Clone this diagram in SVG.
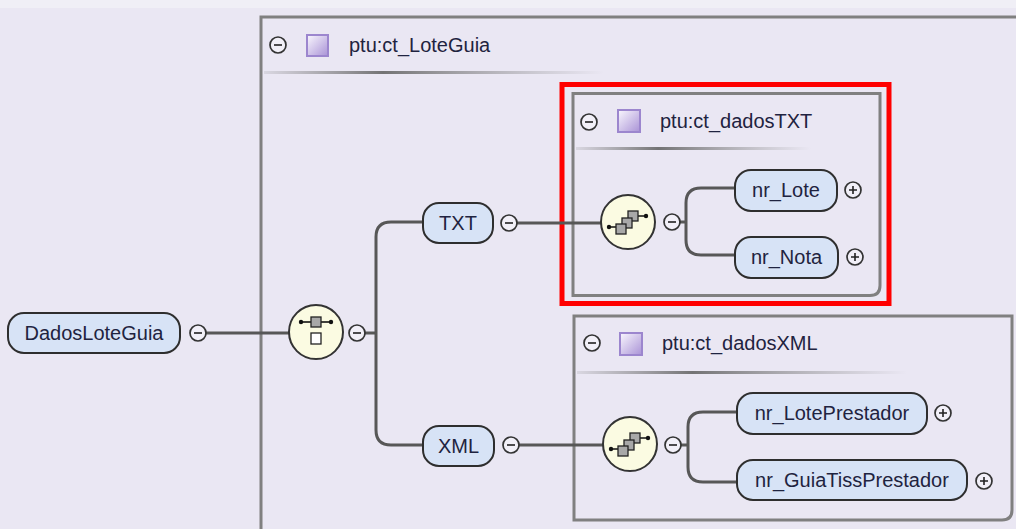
<svg xmlns="http://www.w3.org/2000/svg" width="1016" height="529" viewBox="0 0 1016 529">
<defs>
<linearGradient id="sq" x1="0" y1="0" x2="1" y2="1">
<stop offset="0" stop-color="#FAF8FE"/>
<stop offset="1" stop-color="#A992D6"/>
</linearGradient>
<linearGradient id="sep" x1="0" y1="0" x2="1" y2="0">
<stop offset="0" stop-color="#777" stop-opacity="0.15"/>
<stop offset="0.35" stop-color="#666" stop-opacity="0.9"/>
<stop offset="1" stop-color="#888" stop-opacity="0"/>
</linearGradient>
<symbol id="seq" overflow="visible">
<circle cx="0" cy="0" r="27" fill="#FBFBE2" stroke="#333" stroke-width="2"/>
<path d="M-19 5H-12M10 -6H18" stroke="#111" stroke-width="1.6"/>
<circle cx="-19" cy="5" r="2.2" fill="#111"/>
<circle cx="18" cy="-6" r="2.2" fill="#111"/>
<rect x="0" y="-11" width="10" height="10" fill="#A8A8A8" stroke="#222" stroke-width="1.3"/>
<rect x="-6" y="-4" width="10" height="10" fill="#A8A8A8" stroke="#222" stroke-width="1.3"/>
<rect x="-12" y="2" width="10" height="10" fill="#A8A8A8" stroke="#222" stroke-width="1.3"/>
</symbol>
<symbol id="minus" overflow="visible">
<circle cx="0" cy="0" r="8" fill="#F2F0F8" stroke="#333" stroke-width="1.7"/>
<path d="M-4 0H4" stroke="#222" stroke-width="1.6"/>
</symbol>
<symbol id="plus" overflow="visible">
<circle cx="0" cy="0" r="8" fill="#F2F0F8" stroke="#333" stroke-width="1.7"/>
<path d="M-4 0H4M0 -4V4" stroke="#222" stroke-width="1.6"/>
</symbol>
</defs>
<style>
.bg{fill:#EAE7F3}
.box{fill:none;stroke:#808080;stroke-width:3}
.node{fill:#D7E3F6;stroke:#2E2E2E;stroke-width:2}
.lbl{font-family:"Liberation Sans",Arial,sans-serif;font-size:20px;fill:#1F2340;text-anchor:middle}
.hdr{font-family:"Liberation Sans",Arial,sans-serif;font-size:20px;fill:#1F2340}
.sq{fill:url(#sq);stroke:#9C86CE;stroke-width:2}
.con{fill:none;stroke:#575757;stroke-width:3}
</style>
<rect class="bg" x="0" y="0" width="1016" height="529"/>
<rect x="0" y="0" width="1016" height="8" fill="#F0EFF6"/>

<g id="ct_LoteGuia">
<path class="box" d="M261 540V17H1030"/>
<use href="#minus" x="278" y="45"/>
<rect class="sq" x="307" y="35" width="21" height="21"/>
<text class="hdr" x="349" y="52">ptu:ct_LoteGuia</text>
<rect x="264" y="71" width="340" height="3" fill="url(#sep)"/>
</g>

<g id="ct_dadosTXT">
<path class="box" d="M573 93.5H880V285.5Q880 295.5 870 295.5H573Z"/>
<use href="#minus" x="589" y="122"/>
<rect class="sq" x="618" y="110" width="22" height="22"/>
<text class="hdr" x="660" y="128">ptu:ct_dadosTXT</text>
<rect x="576" y="147" width="235" height="3" fill="url(#sep)"/>
</g>
<rect id="highlight" x="562" y="84.5" width="327" height="219" fill="none" stroke="#FF0000" stroke-width="5"/>

<g id="ct_dadosXML">
<path class="box" d="M574 316H1012V510Q1012 520 1002 520H574Z"/>
<use href="#minus" x="592" y="343"/>
<rect class="sq" x="620" y="333" width="22" height="22"/>
<text class="hdr" x="662" y="350">ptu:ct_dadosXML</text>
<rect x="577" y="371" width="330" height="3" fill="url(#sep)"/>
</g>

<g id="connectors">
<path class="con" d="M206 333H289"/>
<path class="con" d="M365 333H376"/>
<path class="con" d="M423 222H391Q376 222 376 237V430Q376 445 391 445H423"/>
<path class="con" d="M517 223H601"/>
<path class="con" d="M519 445H603"/>
<path class="con" d="M680 222H686"/>
<path class="con" d="M735 188H701Q686 188 686 203V240Q686 255 701 255H735"/>
<path class="con" d="M681 445H688"/>
<path class="con" d="M737 412H703Q688 412 688 427V467Q688 482 703 482H737"/>
</g>

<g id="DadosLoteGuia">
<rect class="node" x="8" y="313" width="172" height="40" rx="16"/>
<text class="lbl" x="94" y="340">DadosLoteGuia</text>
<use href="#minus" x="198" y="333"/>
</g>

<g id="choice">
<circle cx="316" cy="332" r="27" fill="#FBFBE2" stroke="#333" stroke-width="2"/>
<path d="M301 322H331" stroke="#111" stroke-width="1.6"/>
<circle cx="301" cy="322" r="2.2" fill="#111"/>
<circle cx="331" cy="322" r="2.2" fill="#111"/>
<rect x="311" y="317" width="10" height="10" fill="#A8A8A8" stroke="#222" stroke-width="1.3"/>
<rect x="311" y="333" width="10" height="11" fill="#FFFFFF" stroke="#222" stroke-width="1.3"/>
<use href="#minus" x="357" y="333"/>
</g>

<g id="TXT">
<rect class="node" x="423" y="203" width="70" height="40" rx="16"/>
<text class="lbl" x="458" y="230">TXT</text>
<use href="#minus" x="509" y="223"/>
</g>

<g id="XML">
<rect class="node" x="423" y="426" width="71" height="40" rx="16"/>
<text class="lbl" x="458.5" y="453">XML</text>
<use href="#minus" x="511" y="445"/>
</g>

<g id="seqTXT">
<use href="#seq" x="628" y="222"/>
<use href="#minus" x="672" y="222"/>
</g>

<g id="seqXML">
<use href="#seq" x="630" y="444"/>
<use href="#minus" x="673" y="445"/>
</g>

<g id="nr_Lote">
<rect class="node" x="735" y="170" width="102" height="41" rx="16"/>
<text class="lbl" x="786" y="197">nr_Lote</text>
<use href="#plus" x="853" y="190"/>
</g>

<g id="nr_Nota">
<rect class="node" x="735" y="237" width="103" height="41" rx="16"/>
<text class="lbl" x="786.5" y="264">nr_Nota</text>
<use href="#plus" x="855" y="257"/>
</g>

<g id="nr_LotePrestador">
<rect class="node" x="737" y="393" width="190" height="41" rx="16"/>
<text class="lbl" x="832" y="420">nr_LotePrestador</text>
<use href="#plus" x="943" y="413"/>
</g>

<g id="nr_GuiaTissPrestador">
<rect class="node" x="737" y="460" width="230" height="40" rx="16"/>
<text class="lbl" x="852" y="487">nr_GuiaTissPrestador</text>
<use href="#plus" x="984" y="481"/>
</g>
</svg>
